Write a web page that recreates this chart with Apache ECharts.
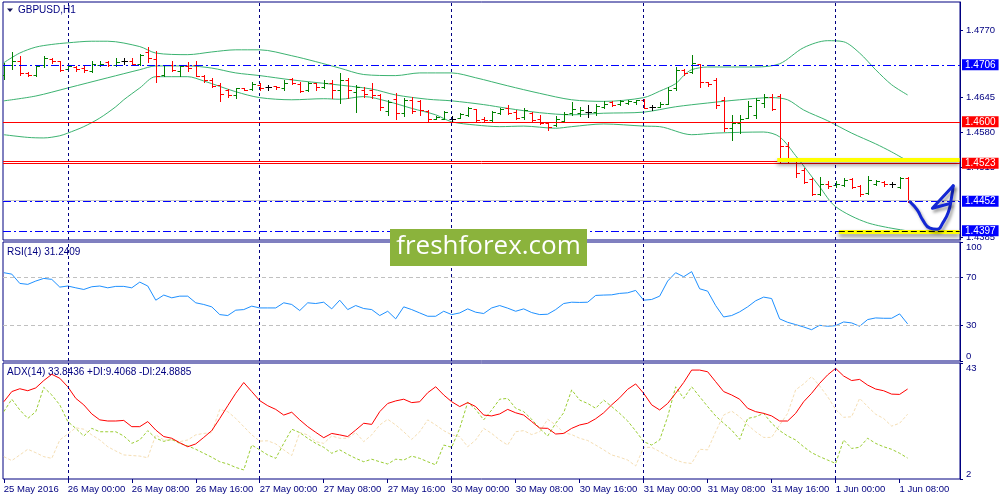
<!DOCTYPE html>
<html>
<head>
<meta charset="utf-8">
<script src="https://cdn.jsdelivr.net/npm/echarts@6/dist/echarts.min.js"></script>
<style>
html, body { margin: 0; padding: 0; background: #fff; }
#chart { width: 1000px; height: 500px; }
</style>
</head>
<body>
<div id="chart"></div>
<script>
// GBPUSD H1, 25 May 16:00 .. 1 Jun 09:00 (one entry per hourly bar)
var open = [1.4688,1.4706,1.4714,1.4690,1.4688,1.4705,1.4717,1.4713,1.4698,1.4702,
    1.4701,1.4694,1.4706,1.4711,1.4706,1.4713,1.4713,1.4708,1.4730,1.4717,
    1.4688,1.4705,1.4694,1.4703,1.4705,1.4686,1.4678,1.4669,1.4659,1.4649,
    1.4662,1.4661,1.4669,1.4665,1.4666,1.4662,1.4680,1.4671,1.4659,1.4672,
    1.4665,1.4672,1.4660,1.4678,1.4655,1.4660,1.4660,1.4650,1.4620,1.4643,
    1.4617,1.4640,1.4638,1.4620,1.4606,1.4606,1.4606,1.4608,1.4612,1.4623,
    1.4606,1.4604,1.4617,1.4625,1.4619,1.4609,1.4617,1.4605,1.4598,1.4594,
    1.4602,1.4617,1.4616,1.4619,1.4619,1.4628,1.4636,1.4633,1.4635,1.4637,
    1.4640,1.4627,1.4628,1.4634,1.4662,1.4697,1.4692,1.4707,1.4674,1.4677,
    1.4641,1.4588,1.4597,1.4607,1.4612,1.4635,1.4647,1.4648,1.4555,1.4527,
    1.4510,1.4493,1.4466,1.4485,1.4482,1.4482,1.4493,1.4481,1.4467,1.4485,
    1.4488,1.4485,1.4479,1.4496];
var high = [1.4710,1.4730,1.4722,1.4692,1.4705,1.4723,1.4719,1.4713,1.4706,1.4704,
    1.4703,1.4713,1.4713,1.4714,1.4718,1.4718,1.4719,1.4727,1.4739,1.4731,
    1.4706,1.4714,1.4706,1.4711,1.4714,1.4688,1.4681,1.4672,1.4661,1.4663,
    1.4663,1.4675,1.4673,1.4669,1.4667,1.4677,1.4682,1.4675,1.4675,1.4673,
    1.4677,1.4677,1.4690,1.4681,1.4669,1.4664,1.4672,1.4651,1.4640,1.4653,
    1.4644,1.4647,1.4641,1.4622,1.4611,1.4621,1.4611,1.4616,1.4628,1.4624,
    1.4609,1.4621,1.4625,1.4631,1.4622,1.4625,1.4619,1.4613,1.4600,1.4610,
    1.4619,1.4637,1.4627,1.4631,1.4633,1.4639,1.4638,1.4641,1.4641,1.4641,
    1.4643,1.4631,1.4636,1.4665,1.4702,1.4698,1.4725,1.4708,1.4675,1.4681,
    1.4647,1.4613,1.4613,1.4638,1.4644,1.4652,1.4652,1.4652,1.4563,1.4532,
    1.4514,1.4495,1.4498,1.4489,1.4489,1.4495,1.4495,1.4483,1.4500,1.4492,
    1.4489,1.4488,1.4498,1.4498];
var low = [1.4680,1.4698,1.4688,1.4686,1.4686,1.4702,1.4710,1.4695,1.4697,1.4695,
    1.4693,1.4692,1.4703,1.4703,1.4703,1.4708,1.4706,1.4706,1.4712,1.4675,
    1.4685,1.4694,1.4685,1.4694,1.4685,1.4675,1.4665,1.4638,1.4647,1.4644,
    1.4660,1.4660,1.4660,1.4660,1.4661,1.4660,1.4671,1.4655,1.4657,1.4660,
    1.4663,1.4644,1.4635,1.4644,1.4619,1.4646,1.4644,1.4622,1.4613,1.4605,
    1.4610,1.4617,1.4613,1.4602,1.4605,1.4605,1.4602,1.4607,1.4611,1.4602,
    1.4599,1.4602,1.4615,1.4615,1.4605,1.4605,1.4600,1.4595,1.4585,1.4593,
    1.4599,1.4613,1.4610,1.4609,1.4613,1.4625,1.4630,1.4632,1.4633,1.4633,
    1.4625,1.4622,1.4627,1.4633,1.4660,1.4687,1.4691,1.4664,1.4666,1.4625,
    1.4582,1.4566,1.4579,1.4607,1.4607,1.4628,1.4622,1.4523,1.4524,1.4498,
    1.4486,1.4464,1.4464,1.4476,1.4479,1.4480,1.4476,1.4461,1.4466,1.4483,
    1.4480,1.4478,1.4476,1.4451];
var close = [1.4705,1.4713,1.4690,1.4688,1.4703,1.4719,1.4713,1.4696,1.4703,1.4698,
    1.4696,1.4708,1.4708,1.4706,1.4712,1.4713,1.4708,1.4725,1.4719,1.4686,
    1.4705,1.4696,1.4703,1.4700,1.4686,1.4677,1.4667,1.4652,1.4650,1.4663,
    1.4660,1.4671,1.4663,1.4665,1.4664,1.4673,1.4672,1.4657,1.4672,1.4665,
    1.4673,1.4660,1.4678,1.4660,1.4665,1.4652,1.4650,1.4628,1.4637,1.4617,
    1.4640,1.4620,1.4622,1.4605,1.4609,1.4619,1.4606,1.4614,1.4626,1.4604,
    1.4603,1.4619,1.4623,1.4617,1.4607,1.4622,1.4603,1.4597,1.4590,1.4606,
    1.4615,1.4623,1.4622,1.4619,1.4630,1.4634,1.4632,1.4638,1.4639,1.4640,
    1.4626,1.4627,1.4634,1.4660,1.4697,1.4690,1.4709,1.4675,1.4670,1.4631,
    1.4588,1.4597,1.4606,1.4630,1.4640,1.4647,1.4623,1.4555,1.4530,1.4504,
    1.4488,1.4466,1.4484,1.4480,1.4485,1.4492,1.4478,1.4465,1.4491,1.4490,
    1.4484,1.4485,1.4495,1.4452];

// Bollinger bands, read at [bar, price]
var bbUpper = [[0,1.4710],[2,1.4728],[4,1.4739],[6,1.4744],[8,1.4747],[11,1.4750],[13,1.4750],
    [17,1.4740],[19,1.4728],[23,1.4725],[26,1.4730],[29,1.4734],[32,1.4734],[36,1.4723],
    [39,1.4712],[42,1.4700],[45,1.4688],[49,1.4686],[52,1.4691],[56,1.4691],[59,1.4682],
    [63,1.4667],[67,1.4653],[71,1.4641],[75,1.4638],[80,1.4645],[82,1.4657],[84,1.4671],
    [85,1.4686],[86,1.4697],[88,1.4702],[94,1.4702],[97,1.4708],[100,1.4738],[103,1.4751],
    [105,1.4749],[107,1.4728],[109,1.4697],[111,1.4669],[113,1.4650]];
var bbMiddle = [[0,1.4639],[4,1.4648],[8,1.4663],[13,1.4682],[17,1.4697],[19,1.4704],[23,1.4704],
    [26,1.4700],[29,1.4691],[32,1.4686],[36,1.4678],[41,1.4670],[46,1.4661],[49,1.4650],
    [53,1.4642],[56,1.4639],[60,1.4632],[63,1.4625],[67,1.4617],[71,1.4613],[75,1.4616],
    [80,1.4618],[84,1.4628],[88,1.4635],[92,1.4641],[96,1.4645],[98,1.4641],[100,1.4622],
    [103,1.4602],[106,1.4579],[109,1.4559],[111,1.4544],[113,1.4527]];
var bbLower = [[0,1.4576],[3,1.4571],[5,1.4570],[7,1.4574],[8,1.4579],[10,1.4591],[12,1.4607],
    [14,1.4628],[15,1.4641],[17,1.4663],[19,1.4684],[23,1.4684],[25,1.4676],[29,1.4656],
    [32,1.4645],[36,1.4641],[40,1.4643],[42,1.4642],[45,1.4647],[48,1.4638],[51,1.4625],
    [54,1.4613],[56,1.4600],[59,1.4594],[62,1.4591],[65,1.4592],[69,1.4588],[71,1.4591],
    [75,1.4596],[80,1.4592],[82,1.4591],[86,1.4576],[89,1.4579],[95,1.4581],[97,1.4572],
    [99,1.4537],[102,1.4479],[104,1.4442],[108,1.4412],[113,1.4397]];

var rsi = [74.2,73.0,65.2,64.4,67.2,69.4,68.6,62.1,63.0,61.5,
    60.1,62.4,63.0,61.5,62.7,62.7,61.5,66.3,63.0,51.1,
    55.4,53.1,54.5,54.5,48.9,47.5,45.5,39.0,38.2,42.7,
    43.2,46.1,44.6,44.6,44.6,48.9,47.5,42.4,48.9,48.3,
    49.4,43.8,51.1,43.2,46.6,44.1,43.2,38.2,41.8,35.4,
    45.5,43.2,40.4,37.6,37.6,41.8,39.0,40.4,43.8,41.0,
    39.9,44.6,46.6,44.4,41.8,43.8,40.7,39.0,39.3,43.2,
    48.3,49.4,49.2,49.4,55.1,55.4,55.6,56.8,57.3,59.3,
    51.1,51.7,54.5,67.2,74.2,70.8,75.1,60.7,58.7,46.6,
    37.0,38.2,41.3,45.5,50.6,53.7,52.5,35.4,32.5,30.6,
    28.6,26.3,30.0,29.2,29.7,32.8,32.0,29.2,34.8,36.2,
    35.9,35.9,39.6,31.2];
var adx = [29.3,32.9,33.9,33.2,34.2,36.8,39.0,37.6,34.6,30.5,
    28.2,25.0,22.9,22.5,22.5,22.7,20.5,20.5,22.3,19.3,
    17.0,16.4,14.8,13.4,14.4,16.7,19.1,23.4,27.9,32.3,
    36.1,32.9,29.7,27.9,26.6,24.6,25.6,22.9,20.5,18.5,
    16.6,18.1,17.6,17.0,19.3,21.7,21.3,25.8,28.7,29.6,
    30.2,29.0,29.3,32.5,34.6,31.7,29.3,27.6,29.0,27.6,
    24.6,24.3,25.0,26.6,25.4,24.6,22.3,20.0,19.9,17.9,
    18.1,19.9,21.1,21.7,23.3,25.4,28.2,30.7,33.7,35.6,
    32.3,28.2,26.4,28.7,32.3,36.1,40.5,40.5,39.9,36.4,
    32.9,31.7,30.2,27.0,25.8,25.2,24.3,22.5,22.5,25.2,
    29.3,32.3,35.8,38.8,41.1,38.4,36.8,37.2,35.2,33.8,
    33.2,32.0,31.9,33.8];
var plusDI = [25.8,30.2,26.4,23.4,25.8,34.4,31.7,28.2,22.3,19.9,
    17.2,19.9,18.7,18.7,18.7,17.2,14.6,15.8,19.1,16.4,
    15.3,16.0,14.6,13.7,12.5,11.1,9.7,8.1,7.3,6.1,
    5.2,14.0,12.3,10.5,9.3,14.6,19.6,18.4,16.4,14.6,
    13.2,11.1,12.3,10.7,9.3,8.1,9.0,8.1,7.3,9.0,
    8.7,10.1,9.3,8.1,7.0,14.0,13.2,19.9,29.1,26.6,
    22.9,26.4,30.2,30.5,27.0,25.8,23.1,19.9,17.2,21.7,
    25.4,33.5,29.9,28.7,27.0,29.9,27.6,25.2,22.5,19.0,
    15.2,14.0,15.8,24.0,34.6,30.5,34.6,31.1,27.6,24.3,
    21.7,19.3,16.0,23.4,24.0,25.2,21.7,19.1,17.2,15.8,
    13.4,11.3,9.9,8.7,7.5,15.8,12.8,13.2,16.4,14.6,
    13.4,12.5,11.1,9.4];
var minusDI = [9.9,8.5,10.5,12.5,11.3,9.9,9.3,15.8,17.9,20.1,
    19.6,17.6,15.8,13.4,11.9,10.5,10.3,10.1,9.5,17.6,
    15.8,15.8,15.2,15.8,17.6,18.1,18.4,26.6,25.8,23.4,
    20.5,17.6,15.4,15.5,14.4,12.3,10.3,18.4,17.6,15.2,
    14.6,17.2,16.4,16.4,18.4,15.2,17.6,21.1,23.1,21.1,
    18.7,16.0,18.7,22.9,21.1,19.1,17.6,17.0,13.4,15.8,
    19.9,18.1,15.8,14.0,18.7,19.1,17.7,18.7,23.1,21.1,
    18.4,17.7,16.4,15.6,14.0,12.3,10.5,9.7,8.7,6.6,
    13.2,13.2,11.7,10.1,8.7,7.8,7.5,12.5,12.3,18.7,
    24.6,26.0,24.0,21.1,18.7,16.7,16.7,21.1,25.2,33.5,
    35.6,38.2,34.9,31.1,26.6,23.8,24.0,30.5,27.6,24.9,
    23.4,20.7,21.7,24.9];

// time axis: one label every 8 bars
var timeLabels = ['25 May 2016', '26 May 00:00', '26 May 08:00', '26 May 16:00', '27 May 00:00',
    '27 May 08:00', '27 May 16:00', '30 May 00:00', '30 May 08:00', '30 May 16:00',
    '31 May 00:00', '31 May 08:00', '31 May 16:00', '1 Jun 00:00', '1 Jun 08:00'];
var labelStep = 8;
var dayStarts = [8, 32, 56, 80, 104];
var priceTicks = [1.4385, 1.4515, 1.4580, 1.4645, 1.4770];

// horizontal level lines drawn on the chart
var bluePrices = [1.4706, 1.4452, 1.4397];
var redPrices = [1.4600, 1.4523];
var redPlain = [1.4526];
var yellowLevels = [[96.7, 1.4530], [104.4, 1.4396]];
var arrowCurve = [[113.3, 1.4451], [114.2, 1.4436], [114.9, 1.4417], [115.8, 1.4402], [116.7, 1.4400],
    [117.4, 1.4412], [118.1, 1.4432], [118.5, 1.4460], [118.7, 1.4481]];
var arrowHead = [[118.3, 1.4448], [116.1, 1.4439], [118.7, 1.4481]];

var FONT = 'Liberation Sans';
var NAVY = '#000080';
var X_MIN = -0.1, X_MAX = 119.55;

var ohlc = open.map(function (o, i) { return [i, o, high[i], low[i], close[i]]; });
function pairs(arr) { return arr.map(function (v, i) { return [i, v]; }); }

var tickVals = timeLabels.map(function (t, k) { return k * labelStep; });

function renderBar(params, api) {
    var i = api.value(0), o = api.value(1), h = api.value(2), l = api.value(3), c = api.value(4);
    var pH = api.coord([i, h]), pL = api.coord([i, l]);
    var pO = api.coord([i, o]), pC = api.coord([i, c]);
    var x = Math.round(pH[0]) + 0.5;
    var yo = Math.round(pO[1]) + 0.5, yc = Math.round(pC[1]) + 0.5;
    var color = c > o ? '#008000' : (c < o ? '#ff0000' : '#000000');
    var st = {stroke: color, lineWidth: 1};
    return {
        type: 'group',
        children: [
            {type: 'line', shape: {x1: x, y1: Math.round(pH[1]), x2: x, y2: Math.round(pL[1]) + 1}, style: st},
            {type: 'line', shape: {x1: x - 3, y1: yo, x2: x, y2: yo}, style: st},
            {type: 'line', shape: {x1: x, y1: yc, x2: x + 3.5, y2: yc}, style: st}
        ]
    };
}

var dayLines = dayStarts.map(function (d) {
    return {xAxis: d, lineStyle: {color: NAVY, type: [3, 3], width: 1}, label: {show: false}};
});

function boxLabel(bg) {
    return {
        show: true, position: 'end', distance: 2,
        formatter: function (p) { return Number(p.value).toFixed(4); },
        color: '#fff', backgroundColor: bg, padding: [1, 3, 0, 3],
        fontFamily: FONT, fontSize: 10
    };
}

var levelLines = [];
bluePrices.forEach(function (p) {
    levelLines.push({yAxis: p, lineStyle: {color: '#0000ff', type: [8, 3, 2, 3], width: 1}, label: boxLabel('#0000ff')});
});
redPrices.forEach(function (p) {
    levelLines.push({yAxis: p, lineStyle: {color: '#ff0000', type: 'solid', width: 1}, label: boxLabel('#ff0000')});
});
redPlain.forEach(function (p) {
    levelLines.push({yAxis: p, lineStyle: {color: '#ff0000', type: 'solid', width: 1}, label: {show: false}});
});
// light grey bid line just above the last close
levelLines.push({yAxis: 1.4454, lineStyle: {color: '#c8c8c8', type: 'solid', width: 1}, label: {show: false}});

var yellowLines = [];
yellowLevels.forEach(function (lv) {
    yellowLines.push([
        {coord: [lv[0], lv[1]], lineStyle: {color: '#ffff00', width: 4, type: 'solid',
            shadowColor: 'rgba(0,0,0,0.45)', shadowBlur: 4, shadowOffsetY: 3}},
        {coord: [X_MAX - 0.05, lv[1]]}
    ]);
});
// black dashed trend line sitting on the lower yellow one
yellowLines.push([
    {coord: [yellowLevels[1][0], yellowLevels[1][1]], lineStyle: {color: '#000', width: 1, type: [6, 3]}},
    {coord: [X_MAX - 0.05, yellowLevels[1][1]]}
]);

var labelFont = {color: NAVY, fontFamily: FONT, fontSize: 9.5};

function xAx(gridIndex, showLabels) {
    return {
        type: 'value', gridIndex: gridIndex, min: X_MIN, max: X_MAX,
        show: showLabels,
        axisLine: {show: false},
        splitLine: {show: false},
        axisTick: {show: showLabels, customValues: tickVals, length: 4, lineStyle: {color: NAVY}},
        axisLabel: Object.assign({
            show: showLabels, customValues: tickVals, align: 'left', margin: 5,
            formatter: function (v) { return timeLabels[Math.round(v / labelStep)] || ''; }
        }, labelFont)
    };
}

function yAx(gridIndex, min, max, ticks, fmt, edgeAlign) {
    var label = Object.assign({customValues: ticks, margin: 6, formatter: fmt}, labelFont);
    if (edgeAlign) {
        label.verticalAlignMinLabel = 'bottom';
        label.verticalAlignMaxLabel = 'top';
    }
    return {
        type: 'value', gridIndex: gridIndex, position: 'right', min: min, max: max,
        axisLine: {show: true, onZero: false, lineStyle: {color: NAVY}},
        splitLine: {show: false},
        axisTick: {show: true, customValues: ticks, length: 3, lineStyle: {color: NAVY}},
        axisLabel: label
    };
}

var gridBase = {show: true, borderColor: NAVY, borderWidth: 1, left: 3, right: 40};

var option = {
    animation: false,
    backgroundColor: '#fff',
    grid: [
        Object.assign({top: 2, height: 238}, gridBase),
        Object.assign({top: 242, height: 119}, gridBase),
        Object.assign({top: 363, height: 116}, gridBase)
    ],
    xAxis: [xAx(0, false), xAx(1, false), xAx(2, true)],
    yAxis: [
        yAx(0, 1.4380, 1.4823, priceTicks, function (v) { return v.toFixed(4); }, false),
        yAx(1, 0, 100, [0, 30, 70, 100], function (v) { return String(v); }, true),
        yAx(2, 2, 43, [2, 43], function (v) { return String(v); }, true)
    ],
    series: [
        {
            name: 'Upper', type: 'line', xAxisIndex: 0, yAxisIndex: 0, data: bbUpper,
            symbol: 'none', smooth: 0.3, z: 2,
            lineStyle: {color: '#3cb371', width: 1},
            markLine: {silent: true, symbol: 'none', animation: false, data: dayLines}
        },
        {
            name: 'Middle', type: 'line', xAxisIndex: 0, yAxisIndex: 0, data: bbMiddle,
            symbol: 'none', smooth: 0.3, z: 2,
            lineStyle: {color: '#3cb371', width: 1},
            markLine: {silent: true, symbol: 'none', animation: false, precision: 4, data: levelLines}
        },
        {
            name: 'Lower', type: 'line', xAxisIndex: 0, yAxisIndex: 0, data: bbLower,
            symbol: 'none', smooth: 0.3, z: 2,
            lineStyle: {color: '#3cb371', width: 1},
            markLine: {silent: true, symbol: 'none', animation: false, precision: 4,
                label: {show: false}, data: yellowLines}
        },
        {
            name: 'GBPUSD', type: 'custom', xAxisIndex: 0, yAxisIndex: 0,
            data: ohlc, renderItem: renderBar, clip: true, z: 3,
            encode: {x: 0, y: [1, 2, 3, 4]}
        },
        {
            name: 'arrow', type: 'line', xAxisIndex: 0, yAxisIndex: 0, data: arrowCurve,
            symbol: 'none', smooth: 0.5, z: 8,
            lineStyle: {color: '#1428d4', width: 3, cap: 'round', join: 'round',
                shadowColor: 'rgba(0,0,0,0.35)', shadowBlur: 3, shadowOffsetX: 2, shadowOffsetY: 3}
        },
        {
            name: 'arrowHead', type: 'line', xAxisIndex: 0, yAxisIndex: 0, data: arrowHead,
            symbol: 'none', z: 8,
            lineStyle: {color: '#1428d4', width: 3, cap: 'round', join: 'round',
                shadowColor: 'rgba(0,0,0,0.35)', shadowBlur: 3, shadowOffsetX: 2, shadowOffsetY: 3}
        },
        {
            name: 'RSI', type: 'line', xAxisIndex: 1, yAxisIndex: 1, data: pairs(rsi),
            symbol: 'none', z: 3,
            lineStyle: {color: '#1e90ff', width: 1},
            markLine: {
                silent: true, symbol: 'none', animation: false,
                data: dayLines.concat([
                    {yAxis: 70, lineStyle: {color: '#c0c0c0', type: [4, 3], width: 1}, label: {show: false}},
                    {yAxis: 30, lineStyle: {color: '#c0c0c0', type: [4, 3], width: 1}, label: {show: false}}
                ])
            }
        },
        {
            name: '-DI', type: 'line', xAxisIndex: 2, yAxisIndex: 2, data: pairs(minusDI),
            symbol: 'none', z: 2,
            lineStyle: {color: '#f5deb3', width: 1, type: [3, 2]}
        },
        {
            name: '+DI', type: 'line', xAxisIndex: 2, yAxisIndex: 2, data: pairs(plusDI),
            symbol: 'none', z: 2,
            lineStyle: {color: '#9acd32', width: 1, type: [3, 2]}
        },
        {
            name: 'ADX', type: 'line', xAxisIndex: 2, yAxisIndex: 2, data: pairs(adx),
            symbol: 'none', z: 3,
            lineStyle: {color: '#ff0000', width: 1},
            markLine: {silent: true, symbol: 'none', animation: false, data: dayLines}
        }
    ],
    graphic: [
        {type: 'polygon', shape: {points: [[7, 8.5], [13, 8.5], [10, 12]]}, style: {fill: '#14145a'}},
        {type: 'text', x: 18, y: 10.5, style: {text: 'GBPUSD,H1', fill: NAVY, font: '10px "Liberation Sans"',
            textVerticalAlign: 'middle', verticalAlign: 'middle'}},
        {type: 'text', x: 7, y: 252, style: {text: 'RSI(14) 31.2409', fill: NAVY, font: '10px "Liberation Sans"',
            textVerticalAlign: 'middle', verticalAlign: 'middle'}},
        {type: 'text', x: 7, y: 372, style: {text: 'ADX(14) 33.8436 +DI:9.4068 -DI:24.8885', fill: NAVY,
            font: '10px "Liberation Sans"', textVerticalAlign: 'middle', verticalAlign: 'middle'}},
        {type: 'rect', z: 100, shape: {x: 390, y: 229, width: 197, height: 37}, style: {fill: '#8bb33c'}},
        {type: 'text', z: 101, x: 488.5, y: 247, style: {text: 'freshforex.com', fill: '#ffffff',
            font: '26px "Open Sans"', textAlign: 'center', align: 'center',
            textVerticalAlign: 'middle', verticalAlign: 'middle'}}
    ]
};

var chart = echarts.init(document.getElementById('chart'));
chart.setOption(option);
</script>
</body>
</html>
